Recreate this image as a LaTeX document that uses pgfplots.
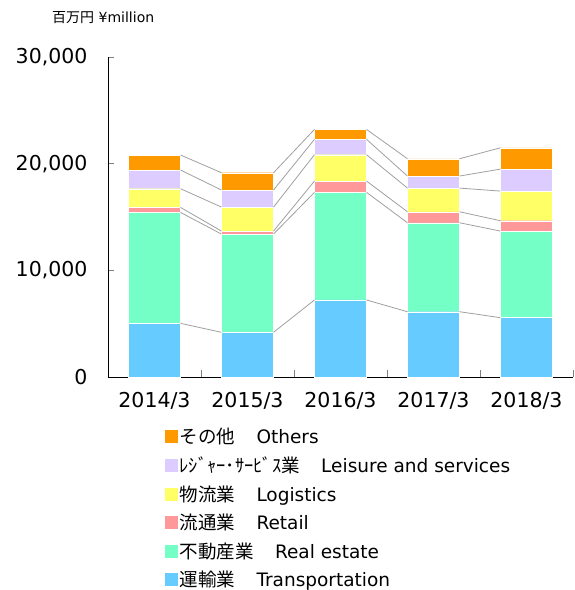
\documentclass[border=0pt]{standalone}
\usepackage{pgfplots}
\pgfplotsset{compat=1.18}
\usepackage{fontspec}
\setmainfont{DejaVu Sans}
\newfontfamily\cjk{Noto Sans CJK JP}
\definecolor{cTr}{HTML}{66CCFF}
\definecolor{cRe}{HTML}{73FFC5}
\definecolor{cRt}{HTML}{FF9999}
\definecolor{cLo}{HTML}{FFFF66}
\definecolor{cLe}{HTML}{DDCCFF}
\definecolor{cOt}{HTML}{FF9900}
\definecolor{cLine}{HTML}{A0A0A0}
\pgfplotsset{
  common/.style={
    at={(0,0)}, anchor=south west,
    scale only axis, width=465pt, height=320pt,
    xmin=-0.5, xmax=4.5, ymin=0, ymax=30000,
  }
}
\begin{document}
\begin{tikzpicture}
\begin{axis}[common,
  ybar stacked, bar width=0.56,
  axis x line=bottom, axis y line=left,
  axis line style={-, black, line width=0.8pt},
  tick align=inside,
  xtick={0,1,2,3,4},
  xticklabels={2014/3,2015/3,2016/3,2017/3,2018/3},
  major x tick style={draw=none},
  minor xtick={-0.5,0.5,1.5,2.5,3.5,4.5},
  minor tick length=7pt,
  minor x tick style={gray, line width=0.8pt},
  ytick={0,10000,20000,30000},
  major tick length=6pt,
  y tick style={gray, line width=0.8pt},
  scaled y ticks=false,
  /pgf/number format/assume math mode=true,
  yticklabel style={/pgf/number format/1000 sep={,}, font=\fontsize{20.5}{20.5}\selectfont, xshift=-17pt},
  xticklabel style={font=\fontsize{20.5}{20.5}\selectfont, yshift=-12pt},
  every axis plot/.append style={draw=white, line width=0.4pt},
  reverse legend,
  legend image code/.code={\fill[#1,draw=none] (0pt,-6.5pt) rectangle (13pt,6.5pt);},
  legend style={at={(0.122,-0.1545)}, anchor=north west, draw=none, fill=none,
    inner sep=0pt, outer sep=0pt, row sep=7.5pt,
    font=\fontsize{18.5}{18.5}\selectfont,
    cells={anchor=west, inner xsep=2.5pt}},
]
\addplot[fill=cTr] coordinates {(0,5030) (1,4190) (2,7220) (3,6120) (4,5560)};
\addlegendentry{{\cjk 運輸業}\hspace{1.15em}Transportation}
\addplot[fill=cRe] coordinates {(0,10400) (1,9210) (2,10090) (3,8340) (4,8120)};
\addlegendentry{{\cjk 不動産業}\hspace{1.15em}Real estate}
\addplot[fill=cRt] coordinates {(0,470) (1,280) (2,1060) (3,1030) (4,970)};
\addlegendentry{{\cjk 流通業}\hspace{1.15em}Retail}
\addplot[fill=cLo] coordinates {(0,1750) (1,2250) (2,2470) (3,2220) (4,2780)};
\addlegendentry{{\cjk 物流業}\hspace{1.15em}Logistics}
\addplot[fill=cLe] coordinates {(0,1750) (1,1600) (2,1440) (3,1130) (4,2060)};
\addlegendentry{{\cjk ﾚｼﾞｬｰ･ｻｰﾋﾞｽ業}\hspace{1.15em}Leisure and services}
\addplot[fill=cOt] coordinates {(0,1410) (1,1620) (2,930) (3,1620) (4,2000)};
\addlegendentry{{\cjk その他}\hspace{1.15em}Others}
\end{axis}
\begin{axis}[common, hide axis, unbounded coords=jump]
\addplot[cLine, line width=0.8pt, no markers] coordinates {(0.28,5030)(0.72,4190)(1,nan)(1.28,4190)(1.72,7220)(2,nan)(2.28,7220)(2.72,6120)(3,nan)(3.28,6120)(3.72,5560)};
\addplot[cLine, line width=0.8pt, no markers] coordinates {(0.28,15430)(0.72,13400)(1,nan)(1.28,13400)(1.72,17310)(2,nan)(2.28,17310)(2.72,14460)(3,nan)(3.28,14460)(3.72,13680)};
\addplot[cLine, line width=0.8pt, no markers] coordinates {(0.28,15900)(0.72,13680)(1,nan)(1.28,13680)(1.72,18370)(2,nan)(2.28,18370)(2.72,15490)(3,nan)(3.28,15490)(3.72,14650)};
\addplot[cLine, line width=0.8pt, no markers] coordinates {(0.28,17650)(0.72,15930)(1,nan)(1.28,15930)(1.72,20840)(2,nan)(2.28,20840)(2.72,17710)(3,nan)(3.28,17710)(3.72,17430)};
\addplot[cLine, line width=0.8pt, no markers] coordinates {(0.28,19400)(0.72,17530)(1,nan)(1.28,17530)(1.72,22280)(2,nan)(2.28,22280)(2.72,18840)(3,nan)(3.28,18840)(3.72,19490)};
\addplot[cLine, line width=0.8pt, no markers] coordinates {(0.28,20810)(0.72,19150)(1,nan)(1.28,19150)(1.72,23210)(2,nan)(2.28,23210)(2.72,20460)(3,nan)(3.28,20460)(3.72,21490)};
\end{axis}
\node[anchor=west, inner sep=0pt, font=\fontsize{14}{14}\selectfont] at (-56pt,359.5pt) {{\cjk 百万円} ¥million};
\pgfresetboundingbox
\path (-108pt,-213pt) rectangle (466pt,377pt);
\end{tikzpicture}
\end{document}
